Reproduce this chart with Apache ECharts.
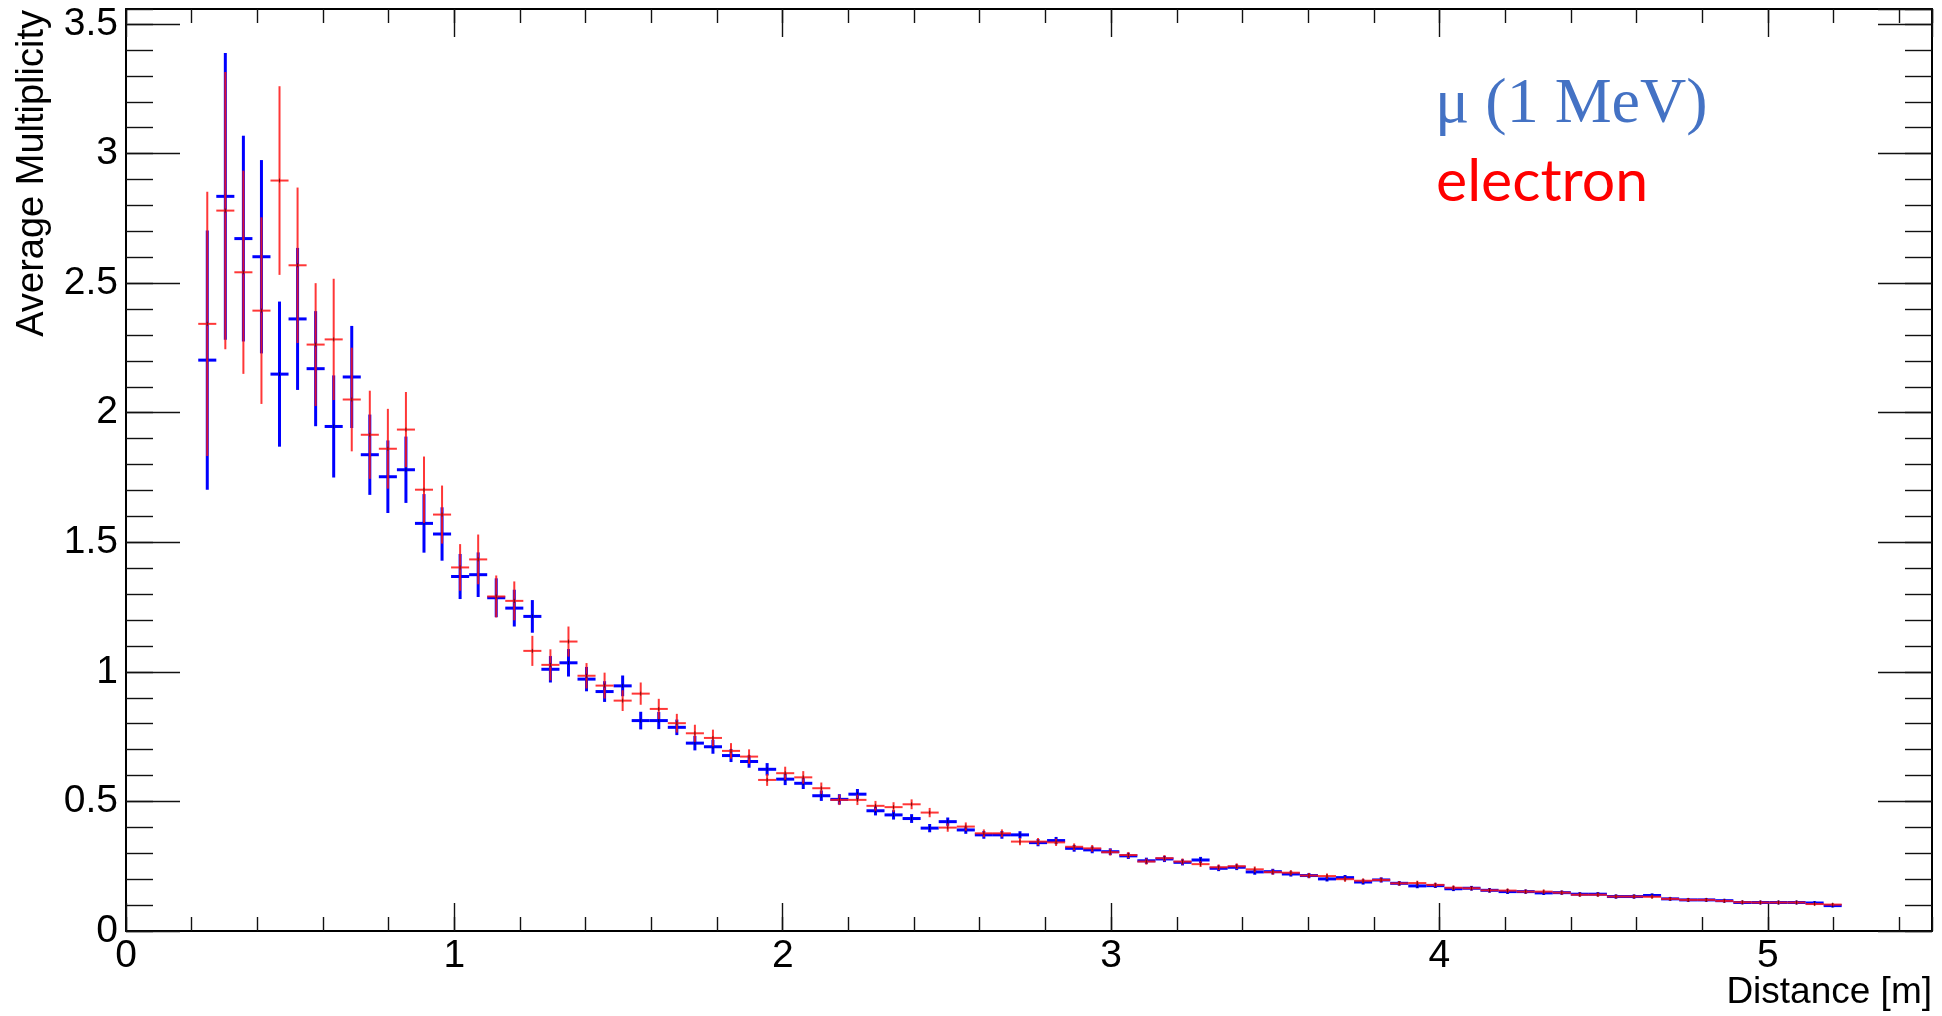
<!DOCTYPE html>
<html>
<head>
<meta charset="utf-8">
<title>Average Multiplicity vs Distance</title>
<script src="https://cdn.jsdelivr.net/npm/echarts@6/dist/echarts.min.js"></script>
<style>
  html, body { margin: 0; padding: 0; background: #ffffff; }
  #chart { width: 1942px; height: 1016px; }
</style>
</head>
<body>
<div id="chart"></div>
<script>
// Histogram bin centres [m] (bin width 0.055 m)
const BIN_WIDTH = 0.055;
const distance = [
  0.2475, 0.3025, 0.3575, 0.4125, 0.4675, 0.5225, 0.5775, 0.6325, 0.6875, 0.7425,
  0.7975, 0.8525, 0.9075, 0.9625, 1.0175, 1.0725, 1.1275, 1.1825, 1.2375, 1.2925,
  1.3475, 1.4025, 1.4575, 1.5125, 1.5675, 1.6225, 1.6775, 1.7325, 1.7875, 1.8425,
  1.8975, 1.9525, 2.0075, 2.0625, 2.1175, 2.1725, 2.2275, 2.2825, 2.3375, 2.3925,
  2.4475, 2.5025, 2.5575, 2.6125, 2.6675, 2.7225, 2.7775, 2.8325, 2.8875, 2.9425,
  2.9975, 3.0525, 3.1075, 3.1625, 3.2175, 3.2725, 3.3275, 3.3825, 3.4375, 3.4925,
  3.5475, 3.6025, 3.6575, 3.7125, 3.7675, 3.8225, 3.8775, 3.9325, 3.9875, 4.0425,
  4.0975, 4.1525, 4.2075, 4.2625, 4.3175, 4.3725, 4.4275, 4.4825, 4.5375, 4.5925,
  4.6475, 4.7025, 4.7575, 4.8125, 4.8675, 4.9225, 4.9775, 5.0325, 5.0875, 5.1425,
  5.1975
];

// Muon (1 MeV): average multiplicity per bin and its error
const muonValue = [
  2.203, 2.835, 2.672, 2.602, 2.149, 2.362, 2.170, 1.947, 2.138, 1.838,
  1.753, 1.780, 1.573, 1.532, 1.368, 1.375, 1.286, 1.246, 1.214, 1.010,
  1.035, 0.972, 0.924, 0.946, 0.812, 0.812, 0.786, 0.725, 0.711, 0.677,
  0.654, 0.624, 0.586, 0.570, 0.522, 0.508, 0.528, 0.464, 0.448, 0.434,
  0.397, 0.422, 0.390, 0.371, 0.371, 0.371, 0.341, 0.349, 0.319, 0.313,
  0.306, 0.290, 0.271, 0.278, 0.265, 0.274, 0.242, 0.246, 0.228, 0.229,
  0.220, 0.214, 0.201, 0.206, 0.189, 0.197, 0.184, 0.174, 0.175, 0.163,
  0.165, 0.157, 0.152, 0.152, 0.147, 0.148, 0.142, 0.142, 0.133, 0.133,
  0.137, 0.124, 0.120, 0.120, 0.117, 0.110, 0.110, 0.110, 0.110, 0.108,
  0.098
];
const muonError = [
  0.500, 0.553, 0.397, 0.373, 0.280, 0.274, 0.222, 0.197, 0.197, 0.155,
  0.140, 0.128, 0.113, 0.103, 0.087, 0.086, 0.075, 0.071, 0.063, 0.051,
  0.053, 0.047, 0.040, 0.040, 0.034, 0.033, 0.030, 0.028, 0.027, 0.025,
  0.024, 0.024, 0.023, 0.022, 0.020, 0.020, 0.020, 0.018, 0.018, 0.017,
  0.016, 0.016, 0.015, 0.015, 0.015, 0.014, 0.014, 0.014, 0.013, 0.013,
  0.013, 0.012, 0.012, 0.012, 0.012, 0.012, 0.011, 0.011, 0.011, 0.011,
  0.010, 0.010, 0.010, 0.010, 0.010, 0.010, 0.009, 0.009, 0.009, 0.009,
  0.009, 0.009, 0.009, 0.008, 0.008, 0.008, 0.008, 0.008, 0.008, 0.008,
  0.008, 0.007, 0.007, 0.007, 0.007, 0.007, 0.007, 0.007, 0.007, 0.007,
  0.007
];

// Electron: average multiplicity per bin and its error
const electronValue = [
  2.343, 2.780, 2.542, 2.394, 2.896, 2.569, 2.263, 2.283, 2.051, 1.915,
  1.861, 1.935, 1.703, 1.607, 1.403, 1.434, 1.291, 1.274, 1.081, 1.027,
  1.117, 0.985, 0.947, 0.889, 0.916, 0.857, 0.802, 0.763, 0.745, 0.695,
  0.673, 0.583, 0.609, 0.593, 0.551, 0.506, 0.506, 0.483, 0.478, 0.489,
  0.457, 0.399, 0.403, 0.377, 0.377, 0.345, 0.345, 0.342, 0.325, 0.319,
  0.304, 0.293, 0.268, 0.281, 0.268, 0.258, 0.246, 0.250, 0.238, 0.227,
  0.225, 0.214, 0.212, 0.200, 0.194, 0.197, 0.184, 0.185, 0.178, 0.167,
  0.165, 0.157, 0.156, 0.152, 0.152, 0.148, 0.140, 0.140, 0.133, 0.133,
  0.132, 0.124, 0.120, 0.120, 0.116, 0.111, 0.110, 0.110, 0.110, 0.104,
  0.102
];
const electronError = [
  0.510, 0.535, 0.392, 0.360, 0.364, 0.300, 0.237, 0.234, 0.200, 0.170,
  0.154, 0.145, 0.128, 0.112, 0.090, 0.096, 0.081, 0.075, 0.058, 0.060,
  0.058, 0.049, 0.050, 0.040, 0.043, 0.039, 0.036, 0.033, 0.032, 0.030,
  0.028, 0.023, 0.025, 0.024, 0.022, 0.020, 0.020, 0.019, 0.019, 0.019,
  0.018, 0.016, 0.016, 0.015, 0.015, 0.014, 0.014, 0.014, 0.013, 0.013,
  0.013, 0.012, 0.012, 0.012, 0.012, 0.011, 0.011, 0.011, 0.011, 0.010,
  0.010, 0.010, 0.010, 0.010, 0.009, 0.009, 0.009, 0.009, 0.009, 0.009,
  0.008, 0.008, 0.008, 0.008, 0.008, 0.008, 0.008, 0.008, 0.007, 0.007,
  0.007, 0.007, 0.007, 0.007, 0.007, 0.007, 0.007, 0.007, 0.007, 0.006,
  0.006
];

// Axis ranges and tick steps
const X_MIN = 0, X_MAX = 5.5, X_MAJOR = 1, X_MINOR = 0.2;
const Y_MIN = 0, Y_MAX = 3.558, Y_MAJOR = 0.5, Y_MINOR = 0.1;

const SANS = '"Liberation Sans", Arial, Helvetica, sans-serif';
const GRID_RECT = { left: 126, right: 10, top: 9, bottom: 85 };

function toPoints(values, errors) {
  return distance.map((d, i) => [d, values[i], errors[i]]);
}

// Error-bar cross: horizontal bar over the bin, vertical bar over +/- error
function errorCross(color, width) {
  return function (params, api) {
    const x = api.value(0), y = api.value(1), e = api.value(2);
    const left = api.coord([x - BIN_WIDTH / 2, y]);
    const right = api.coord([x + BIN_WIDTH / 2, y]);
    const top = api.coord([x, y + e]);
    const bottom = api.coord([x, y - e]);
    const cx = (left[0] + right[0]) / 2;
    return {
      type: 'group',
      children: [
        { type: 'line', shape: { x1: left[0], y1: left[1], x2: right[0], y2: right[1] },
          style: { stroke: color, lineWidth: width } },
        { type: 'line', shape: { x1: top[0], y1: top[1], x2: bottom[0], y2: bottom[1] },
          style: { stroke: color, lineWidth: width } },
        { type: 'line', shape: { x1: cx, y1: left[1] - 2, x2: cx, y2: left[1] + 2 },
          style: { stroke: 'rgba(0,0,0,0.55)', lineWidth: 1 } }
      ]
    };
  };
}

function xAxisDef(gridIndex, position, interval, tickLen, withLabels) {
  return {
    type: 'value', gridIndex, position, min: X_MIN, max: X_MAX, interval,
    axisLine: { show: withLabels !== null, onZero: false, lineStyle: { color: '#000', width: 2 } },
    axisTick: { show: true, inside: true, length: tickLen, lineStyle: { color: '#111', width: 1.4 } },
    axisLabel: withLabels ? {
      show: true, margin: 6, fontSize: 39, fontFamily: SANS, color: '#000', showMaxLabel: false
    } : { show: false },
    splitLine: { show: false }
  };
}

function yAxisDef(gridIndex, position, interval, tickLen, withLabels) {
  return {
    type: 'value', gridIndex, position, min: Y_MIN, max: Y_MAX, interval,
    axisLine: { show: withLabels !== null, onZero: false, lineStyle: { color: '#000', width: 2 } },
    axisTick: { show: true, inside: true, length: tickLen, lineStyle: { color: '#111', width: 1.4 } },
    axisLabel: withLabels ? {
      show: true, margin: 8, fontSize: 39, fontFamily: SANS, color: '#000', showMaxLabel: false
    } : { show: false },
    splitLine: { show: false }
  };
}

const chart = echarts.init(document.getElementById('chart'), null, { renderer: 'canvas' });

chart.setOption({
  backgroundColor: '#ffffff',
  animation: false,
  grid: [
    Object.assign({ containLabel: false }, GRID_RECT),
    Object.assign({ containLabel: false }, GRID_RECT)
  ],
  xAxis: [
    xAxisDef(0, 'bottom', X_MAJOR, 28, true),
    xAxisDef(0, 'top', X_MAJOR, 28, false),
    xAxisDef(1, 'bottom', X_MINOR, 14, null),
    xAxisDef(1, 'top', X_MINOR, 14, null)
  ],
  yAxis: [
    yAxisDef(0, 'left', Y_MAJOR, 54, true),
    yAxisDef(0, 'right', Y_MAJOR, 54, false),
    yAxisDef(1, 'left', Y_MINOR, 27, null),
    yAxisDef(1, 'right', Y_MINOR, 27, null)
  ],
  series: [
    {
      name: 'μ (1 MeV)', type: 'custom', xAxisIndex: 0, yAxisIndex: 0,
      renderItem: errorCross('#0000ff', 3), data: toPoints(muonValue, muonError), z: 2
    },
    {
      name: 'electron', type: 'custom', xAxisIndex: 0, yAxisIndex: 0,
      renderItem: errorCross('rgba(255,20,20,0.85)', 2), data: toPoints(electronValue, electronError), z: 3
    }
  ],
  graphic: [
    { type: 'text', x: 33, y: 10, rotation: Math.PI / 2,
      style: { text: 'Average Multiplicity', font: '38px ' + SANS, fill: '#000',
               textAlign: 'right', textVerticalAlign: 'middle' } },
    { type: 'text', x: 1932, y: 993,
      style: { text: 'Distance [m]', font: '37px ' + SANS, fill: '#000',
               textAlign: 'right', textVerticalAlign: 'middle' } },
    { type: 'text', x: 1435, y: 105,
      style: { text: 'μ (1 MeV)', font: '64px "Liberation Serif", "DejaVu Serif", serif', fill: '#4472C4',
               textAlign: 'left', textVerticalAlign: 'middle' } },
    { type: 'text', x: 1436, y: 182,
      style: { text: 'electron', font: '59px Lato, "Open Sans", sans-serif', fill: '#ff0000',
               textAlign: 'left', textVerticalAlign: 'middle' } }
  ]
});
</script>
</body>
</html>
